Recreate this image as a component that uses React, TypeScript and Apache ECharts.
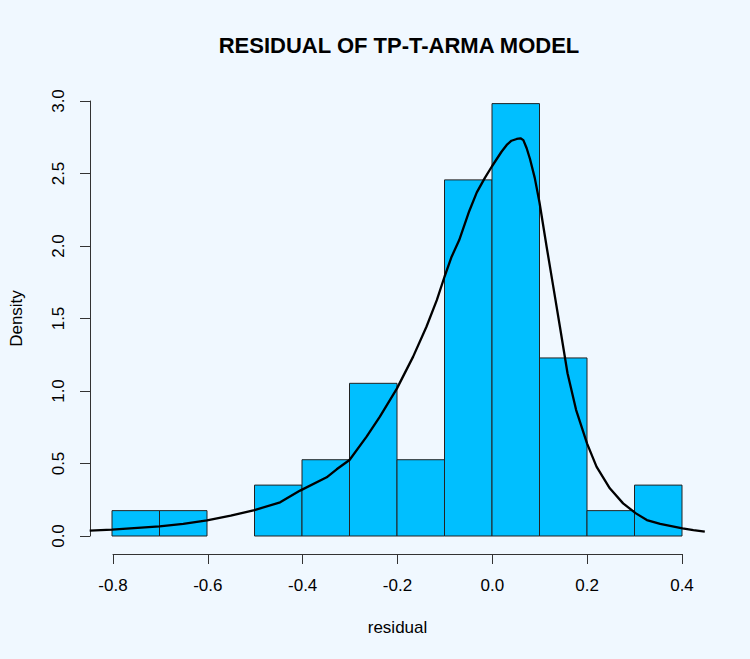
import React, { useEffect, useRef } from "react";
import * as echarts from "echarts";

const binStarts = [-0.8, -0.7, -0.6, -0.5, -0.4, -0.3, -0.2, -0.1, 0.0, 0.1, 0.2, 0.3];
const binWidth = 0.1;
const binDensity = [0.175, 0.175, 0, 0.351, 0.526, 1.053, 0.526, 2.456, 2.982, 1.228, 0.175, 0.351];

const curveX = [
  -0.847, -0.8, -0.7, -0.65, -0.6, -0.55, -0.5, -0.446, -0.404, -0.348, -0.327, -0.3,
  -0.264, -0.236, -0.2, -0.166, -0.138, -0.116, -0.1, -0.085, -0.069, -0.048, -0.032,
  -0.015, 0.0, 0.02, 0.031, 0.041, 0.052, 0.06, 0.066, 0.073, 0.08, 0.09, 0.1, 0.115,
  0.129, 0.143, 0.159, 0.177, 0.2, 0.22, 0.248, 0.276, 0.303, 0.326, 0.354, 0.401,
  0.424, 0.448,
];
const curveY = [
  0.037, 0.044, 0.067, 0.083, 0.108, 0.14, 0.179, 0.232, 0.313, 0.405, 0.46, 0.524,
  0.685, 0.823, 1.018, 1.237, 1.443, 1.628, 1.788, 1.926, 2.041, 2.24, 2.37,
  2.47, 2.55, 2.65, 2.697, 2.726, 2.738, 2.743, 2.73, 2.674, 2.6, 2.47, 2.3, 1.995,
  1.72, 1.443, 1.122, 0.87, 0.639, 0.478, 0.329, 0.225, 0.156, 0.11, 0.083, 0.053,
  0.041, 0.03,
];

const xTicks = { min: -0.8, max: 0.4, interval: 0.2 };
const yTicks = { min: 0, max: 3, interval: 0.5 };

const titleText = "RESIDUAL OF TP-T-ARMA MODEL";
const xName = "residual";
const yName = "Density";

const FONT = "'Liberation Sans', Arial, Helvetica, sans-serif";

// layout (pixels)
const AX_LEFT = 112;
const AX_RIGHT = 682;
const PLOT_LEFT = 89;
const PLOT_RIGHT = 706;
const TOP = 101;
const BOTTOM = 536;
const W = 750;
const H = 659;

export default function App() {
  const ref = useRef<HTMLDivElement>(null);

  useEffect(() => {
    document.body.style.margin = "0";
    document.body.style.background = "#F0F8FF";
    if (!ref.current) return;
    const chart = echarts.init(ref.current, null, { renderer: "svg" });

    const histData = binStarts.map((s, i) => [s, s + binWidth, binDensity[i]]);
    const curveData = curveX.map((x, i) => [x, curveY[i]]);

    const pxPerUnit = (AX_RIGHT - AX_LEFT) / (xTicks.max - xTicks.min);
    const dataXMin = xTicks.min - (AX_LEFT - PLOT_LEFT) / pxPerUnit;
    const dataXMax = xTicks.max + (PLOT_RIGHT - AX_RIGHT) / pxPerUnit;

    const axisColor = "#333";
    const labelStyle = {
      fontFamily: FONT,
      fontSize: 17,
      color: "#000",
      formatter: (v: number) => v.toFixed(1),
    };

    chart.setOption({
      animation: false,
      backgroundColor: "#F0F8FF",
      title: {
        text: titleText,
        left: 394,
        top: 29,
        textAlign: "center",
        textStyle: { fontFamily: FONT, fontSize: 22, fontWeight: "bold", color: "#000" },
      },
      grid: [
        { left: PLOT_LEFT, right: W - PLOT_RIGHT, top: TOP, bottom: H - BOTTOM, containLabel: false },
        { left: AX_LEFT, right: W - AX_RIGHT, top: TOP, bottom: H - BOTTOM, containLabel: false },
      ],
      xAxis: [
        {
          gridIndex: 0,
          type: "value",
          min: dataXMin,
          max: dataXMax,
          show: false,
        },
        {
          gridIndex: 1,
          type: "value",
          min: xTicks.min,
          max: xTicks.max,
          interval: xTicks.interval,
          offset: 18,
          name: xName,
          nameLocation: "middle",
          nameGap: 65,
          nameTextStyle: { fontFamily: FONT, fontSize: 17, color: "#000" },
          axisLine: { show: true, onZero: false, lineStyle: { color: axisColor, width: 1 } },
          axisTick: { show: true, length: 10, lineStyle: { color: axisColor, width: 1 } },
          axisLabel: { margin: 23, ...labelStyle },
          splitLine: { show: false },
        },
      ],
      yAxis: [
        {
          gridIndex: 0,
          type: "value",
          min: yTicks.min,
          max: yTicks.max,
          show: false,
        },
        {
          gridIndex: 1,
          type: "value",
          min: yTicks.min,
          max: yTicks.max,
          interval: yTicks.interval,
          offset: AX_LEFT - PLOT_LEFT,
          name: yName,
          nameLocation: "middle",
          nameRotate: 90,
          nameGap: 65,
          nameTextStyle: { fontFamily: FONT, fontSize: 17, color: "#000" },
          axisLine: { show: true, onZero: false, lineStyle: { color: axisColor, width: 1 } },
          axisTick: { show: true, length: 10, lineStyle: { color: axisColor, width: 1 } },
          axisLabel: { margin: 23, rotate: 90, ...labelStyle },
          splitLine: { show: false },
        },
      ],
      series: [
        {
          type: "custom",
          xAxisIndex: 0,
          yAxisIndex: 0,
          data: histData,
          encode: { x: [0, 1], y: 2 },
          renderItem: (params: any, api: any) => {
            const x0 = api.value(0);
            const x1 = api.value(1);
            const h = api.value(2);
            if (!h) return null;
            const p0 = api.coord([x0, h]);
            const p1 = api.coord([x1, 0]);
            return {
              type: "rect",
              shape: { x: p0[0], y: p0[1], width: p1[0] - p0[0], height: p1[1] - p0[1] },
              style: { fill: "#00BFFF", stroke: "#222", lineWidth: 1 },
            };
          },
          z: 1,
        },
        {
          type: "line",
          xAxisIndex: 0,
          yAxisIndex: 0,
          data: curveData,
          showSymbol: false,
          symbol: "none",
          clip: false,
          smooth: false,
          lineStyle: { color: "#000", width: 2.3 },
          z: 3,
        },
      ],
    });

    return () => chart.dispose();
  }, []);

  return <div ref={ref} style={{ width: W, height: H }} />;
}
